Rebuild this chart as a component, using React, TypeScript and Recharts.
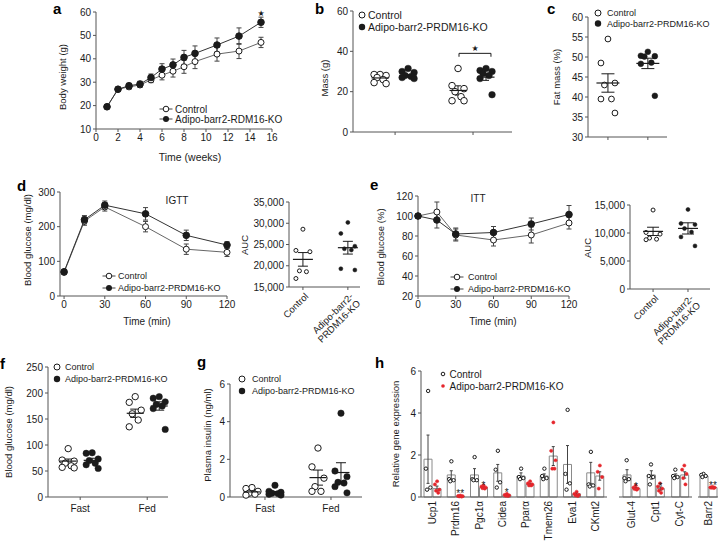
import React from 'react'
import {
  LineChart, Line, ScatterChart, Scatter, ComposedChart, Bar,
  XAxis, YAxis, ErrorBar, ReferenceLine, ReferenceDot, LabelList,
} from 'recharts'

const FONT = '"Liberation Sans", Arial, Helvetica, sans-serif'
const STAR_FONT = '"DejaVu Sans", sans-serif'
const AX = '#555'
const INK = '#1b1b1b'
const RED = '#e5262c'

// ---- a: body weight
const aWeeks = [1, 2, 3, 4, 5, 6, 7, 8, 9, 11, 13, 15]
const aControl = [19.5, 27, 28, 28.8, 31, 33, 34.7, 36.6, 38.8, 42, 43.3, 47]
const aControlErr = [0.8, 0.8, 1, 1, 1.2, 2, 2.5, 2.8, 3, 3, 3.2, 2.2]
const aKO = [19.5, 27, 28.5, 29.2, 32, 35.6, 37.4, 40.6, 42.3, 45.9, 49.7, 55.6]
const aKOErr = [0.8, 0.8, 1, 1.2, 1.5, 2.3, 2.5, 3, 3.2, 3, 3.5, 2.2]
const aStars = ['', '', '', '', '', '', '', '', '', '', '', '★']
const aXTicks = [0, 2, 4, 6, 8, 10, 12, 14, 16]
const aYTicks = [10, 20, 30, 40, 50, 60]
const aLegend = ['Control', 'Adipo-barr2-RDM16-KO']

const groupLegend = ['Control', 'Adipo-barr2-PRDM16-KO']

// ---- b: mass
const bControl = [[28.5, 28.5, 28, 27, 26, 24.5, 24], [31.5, 23, 21.5, 20, 17.5, 15.5, 15.5]]
const bControlMean = [26.8, 20.6]
const bControlSem = [0.7, 2.3]
const bKO = [[31.5, 30, 29.5, 28, 27.5, 27, 26.5], [31.5, 30.5, 30, 29, 28, 26.5, 18.5]]
const bKOMean = [27.9, 27.2]
const bKOSem = [0.6, 1.6]
const bYTicks = [0, 20, 40, 60]

// ---- c: fat mass
const cControl = [[54.5, 48.5, 43.5, 43, 39.5, 39.5, 36]]
const cControlMean = [43.5]
const cControlSem = [2.3]
const cKO = [[51.3, 50.3, 50.2, 50.1, 48.6, 48.3, 40.3]]
const cKOMean = [48.4]
const cKOSem = [1.3]
const cYTicks = [30, 35, 40, 45, 50, 55, 60]

// ---- d: IGTT
const dTimes = [0, 15, 30, 60, 90, 120]
const dControl = [68, 216, 257, 200, 135, 126]
const dControlErr = [5, 12, 12, 15, 15, 12]
const dKO = [70, 220, 262, 237, 175, 147]
const dKOErr = [5, 12, 12, 18, 15, 10]
const dYTicks = [0, 100, 200, 300]
const timeTicks = [0, 30, 60, 90, 120]
const aucGroups = ['Control', 'Adipo-barr2-\nPRDM16-KO']
const dAucControl = [28600, 23600, 23300, 18800, 18600, 17000]
const dAucKO = [30200, 27600, 24600, 24000, 23700, 19300, 19000]
const dAucMean = [21500, 24250]
const dAucSem = [1600, 1500]
const dAucTicks = [15000, 20000, 25000, 30000, 35000]

// ---- e: ITT
const eTimes = [0, 15, 30, 60, 90, 120]
const eControl = [100, 104, 81, 76, 81, 93]
const eControlErr = [0, 10, 6, 6, 8, 6]
const eKO = [100, 96, 82, 83.5, 92, 101.5]
const eKOErr = [0, 8, 6, 6, 6, 9]
const eYTicks = [20, 40, 60, 80, 100, 120]
const eAucControl = [14100, 10100, 9800, 9100, 8900, 8800]
const eAucKO = [14200, 11700, 11500, 10800, 10200, 9300, 7700]
const eAucMean = [10290, 10820]
const eAucSem = [740, 1000]
const eAucTicks = [0, 5000, 10000, 15000]

// ---- f: blood glucose fast / fed
const states = ['Fast', 'Fed']
const fControl = [[93, 71, 69, 65, 60, 57, 56], [193, 182, 167, 160, 148, 135]]
const fControlMean = [69, 161]
const fControlSem = [4, 8]
const fKO = [[85, 84, 73, 70, 65, 62, 55], [193, 190, 183, 178, 175, 170, 130]]
const fKOMean = [70.5, 175]
const fKOSem = [4, 8]
const fYTicks = [0, 50, 100, 150, 200, 250]

// ---- g: plasma insulin
const gControl = [[0.5, 0.45, 0.3, 0.2, 0.15, 0.1], [2.6, 1.6, 1.0, 0.55, 0.3, 0.3]]
const gControlMean = [0.27, 1.03]
const gControlSem = [0.07, 0.4]
const gKO = [[0.62, 0.3, 0.25, 0.2, 0.18, 0.15, 0.1], [4.45, 1.38, 1.08, 0.78, 0.74, 0.55, 0.22]]
const gKOMean = [0.23, 1.3]
const gKOSem = [0.06, 0.52]
const gYTicks = [0, 2, 4, 6]

// ---- h: relative gene expression (three blocks)
const hGenes = [
  ['Ucp1', 'Prdm16', 'Pgc1α', 'Cidea', 'Pparα', 'Tmem26', 'Eva1', 'CKmt2'],
  ['Glut-4', 'Cpt1', 'Cyt-C'],
  ['Barr2'],
]
const hControlMean = [[1.8, 1.05, 1.05, 1.15, 1.0, 1.0, 1.55, 1.15], [1.05, 1.05, 1.0], [1.0]]
const hControlSem = [[1.15, 0.2, 0.3, 0.4, 0.15, 0.1, 0.9, 0.5], [0.25, 0.2, 0.1], [0.05]]
const hKOMean = [[0.4, 0.05, 0.45, 0.1, 0.6, 1.95, 0.15, 1.0], [0.4, 0.4, 1.05], [0.45]]
const hKOSem = [[0.12, 0.02, 0.05, 0.03, 0.05, 0.45, 0.05, 0.2], [0.05, 0.08, 0.15], [0.02]]
const hStars = [['', '**', '*', '*', '', '', '', ''], ['*', '*', ''], ['**']]
const hControlPts = [
  [[5.05, 1.35, 0.45, 0.35], [1.7, 0.85, 0.8, 0.75], [1.9, 0.85, 0.8, 0.8], [2.2, 1.3, 0.7, 0.45],
    [1.35, 0.95, 0.9, 0.85], [1.35, 1.0, 0.9, 0.85], [4.15, 1.1, 0.65, 0.35], [2.15, 0.6, 0.55, 0.5]],
  [[1.75, 0.9, 0.85, 0.75], [1.55, 1.0, 0.95, 0.6], [1.3, 1.0, 0.95, 0.9]],
  [[1.1, 1.05, 1.0, 0.95]],
]
const hKOPts = [
  [[0.75, 0.6, 0.35, 0.3, 0.2], [0.07, 0.05, 0.04, 0.03, 0.02], [0.55, 0.5, 0.45, 0.42, 0.4],
    [0.15, 0.1, 0.08, 0.06, 0.05], [0.75, 0.65, 0.6, 0.55, 0.55], [3.55, 2.2, 1.75, 1.35, 1.35],
    [0.25, 0.15, 0.1, 0.08, 0.05], [1.5, 1.2, 0.95, 0.4]],
  [[0.55, 0.45, 0.4, 0.38, 0.35], [0.65, 0.5, 0.4, 0.3, 0.2], [1.5, 1.3, 1.1, 0.9, 0.6]],
  [[0.48, 0.46, 0.45, 0.44, 0.43]],
]
const hYTicks = [0, 2, 4, 6]

// ---------------------------------------------------------------
const PAD = 10
const JIT = [0, -1, 1, -0.5, 0.5, -1, 1, 0]
const tk = { fontSize: 10, fill: INK }

type Box = { x0: number; y0: number; x1: number; y1: number; yw: number; xh: number }

// plot area lands exactly on x0..x1 / y0..y1 of the page
function place(b: Box) {
  return {
    style: { position: 'absolute' as const, left: b.x0 - b.yw - PAD, top: b.y0 - PAD },
    width: b.x1 - b.x0 + b.yw + 2 * PAD,
    height: b.y1 - b.y0 + PAD + b.xh,
    margin: { top: PAD, right: PAD, bottom: 0, left: PAD },
  }
}

const openDot = (r: number) => (s: any) =>
  <circle cx={s.cx} cy={s.cy} r={r} fill="#fff" stroke={INK} strokeWidth={1} />
const fillDot = (r: number, c = INK) => (s: any) =>
  <circle cx={s.cx} cy={s.cy} r={r} fill={c} stroke={c} strokeWidth={0.5} />

function LinePanel({ box, x, c, ce, k, ke, stars, xDomain, xTicks, yDomain, yTicks }: any) {
  const p = place(box)
  const rows = x.map((t: number, i: number) => ({ t, c: c[i], ce: ce[i], k: k[i], ke: ke[i], s: stars ? stars[i] : '' }))
  return (
    <div style={p.style}>
      <LineChart width={p.width} height={p.height} margin={p.margin} data={rows}>
        <XAxis dataKey="t" type="number" domain={xDomain} ticks={xTicks} interval={0} height={box.xh}
          tickSize={3} stroke={AX} tick={tk} />
        <YAxis type="number" domain={yDomain} ticks={yTicks} interval={0} width={box.yw}
          tickSize={3} stroke={AX} tick={tk} />
        <Line dataKey="c" stroke="#666" strokeWidth={1} isAnimationActive={false}
          dot={{ r: 3, fill: '#fff', stroke: INK, strokeWidth: 1 }} activeDot={false}>
          <ErrorBar dataKey="ce" width={2.5} stroke="#444" strokeWidth={1} />
        </Line>
        <Line dataKey="k" stroke="#333" strokeWidth={1} isAnimationActive={false}
          dot={{ r: 3.3, fill: INK, stroke: INK, strokeWidth: 1 }} activeDot={false}>
          <ErrorBar dataKey="ke" width={2.5} stroke="#444" strokeWidth={1} />
          <LabelList dataKey="s" content={(l: any) => l.value
            ? <text x={l.x} y={l.y - 6.5} textAnchor="middle" fontSize={8} fontFamily={STAR_FONT} fill={INK}>{l.value}</text>
            : null} />
        </Line>
      </LineChart>
    </div>
  )
}

type Group = { cat: number; side: number; vals: number[]; mean: number; sem: number; filled: boolean }

function DotPanel(props: any) {
  const { box, xDomain, xTicks, tick, tickFmt, yDomain, yTicks, yFmt, groups, r, half, cap, spread } = props
  const p = place(box)
  const ppu = (box.x1 - box.x0) / (xDomain[1] - xDomain[0])
  const pts = (filled: boolean) => groups.filter((g: Group) => g.filled === filled).flatMap((g: Group) =>
    g.vals.map((v, i) => ({ x: g.cat + (g.side + JIT[i % JIT.length] * spread) / ppu, y: v })))
  const means = groups.map((g: Group) => ({ x: g.cat + g.side / ppu, y: g.mean, e: g.sem }))
  return (
    <div style={p.style}>
      <ScatterChart width={p.width} height={p.height} margin={p.margin}>
        <XAxis dataKey="x" type="number" domain={xDomain} ticks={xTicks} interval={0} height={box.xh}
          tickSize={3} stroke={AX} tick={tick || tk} tickFormatter={tickFmt} tickMargin={tickFmt ? 5 : 2} />
        <YAxis dataKey="y" type="number" domain={yDomain} ticks={yTicks} interval={0} width={box.yw}
          tickSize={3} stroke={AX} tick={tk} tickFormatter={yFmt} />
        <Scatter data={pts(false)} dataKey="y" shape={openDot(r)} isAnimationActive={false} />
        <Scatter data={pts(true)} dataKey="y" shape={fillDot(r)} isAnimationActive={false} />
        <Scatter data={means} dataKey="y" isAnimationActive={false}
          shape={(s: any) => <line x1={s.cx - half} x2={s.cx + half} y1={s.cy} y2={s.cy} stroke={INK} strokeWidth={1.2} />}>
          <ErrorBar dataKey="e" direction="y" width={cap} stroke={INK} strokeWidth={1} />
        </Scatter>
        {props.children}
      </ScatterChart>
    </div>
  )
}

const aucTick = (s: any) => {
  const lines = aucGroups[s.payload.value - 1].split('\n')
  const x = s.x + 6
  const y = s.y + 5
  return (
    <text x={x} y={y} transform={`rotate(-45 ${x} ${y})`} textAnchor="end" fontSize={9.5} fill={INK}>
      {lines.map((l, i) => <tspan key={i} x={x} dy={i === 0 ? 0 : '1.05em'}>{l}</tspan>)}
    </text>
  )
}

const geneTick = (s: any) => (
  <text x={s.x} y={s.y} transform={`rotate(-90 ${s.x} ${s.y})`} textAnchor="end" dy="0.35em"
    fontSize={10} fill={INK}>{s.payload.value}</text>
)

function GenePanel({ box, block, showY }: { box: Box; block: number; showY: boolean }) {
  const p = place(box)
  const genes = hGenes[block]
  const n = genes.length
  const band = (box.x1 - box.x0) / n
  const off = 4.5 / band
  const js = 2.2 / band
  const rows = genes.map((g, i) => ({
    g, c: hControlMean[block][i], ce: hControlSem[block][i],
    k: hKOMean[block][i], ke: hKOSem[block][i], s: hStars[block][i],
  }))
  const cPts = hControlPts[block].flatMap((vals, i) => vals.map((v, j) => ({ x: i - off + JIT[j] * js, y: v })))
  const kPts = hKOPts[block].flatMap((vals, i) => vals.map((v, j) => ({ x: i + off + JIT[j] * js, y: v })))
  return (
    <div style={p.style}>
      <ComposedChart width={p.width} height={p.height} margin={p.margin} data={rows} barSize={8} barGap={1}>
        <XAxis xAxisId="c" dataKey="g" type="category" interval={0} tickLine={false} tickSize={0}
          tickMargin={4} height={box.xh} stroke={AX} tick={geneTick} />
        <XAxis xAxisId="n" dataKey="x" type="number" domain={[-0.5, n - 0.5]} hide />
        <YAxis type="number" domain={[0, 6]} ticks={hYTicks} interval={0} width={box.yw} hide={!showY}
          tickSize={3} stroke={AX} tick={tk} />
        <Bar xAxisId="c" dataKey="c" fill="#fff" stroke="#8a8a8a" strokeWidth={1} isAnimationActive={false}>
          <ErrorBar dataKey="ce" width={1.5} stroke="#444" strokeWidth={1} />
        </Bar>
        <Bar xAxisId="c" dataKey="k" fill="#fff" stroke="#8a8a8a" strokeWidth={1} isAnimationActive={false}>
          <ErrorBar dataKey="ke" width={1.5} stroke="#444" strokeWidth={1} />
          <LabelList dataKey="s" content={(l: any) => l.value
            ? <text x={l.x + l.width / 2} y={l.y + 1} textAnchor="middle" fontSize={10} fill={INK}>{l.value}</text>
            : null} />
        </Bar>
        <Scatter xAxisId="n" data={cPts} dataKey="y" shape={openDot(1.7)} isAnimationActive={false} />
        <Scatter xAxisId="n" data={kPts} dataKey="y" shape={fillDot(1.6, RED)} isAnimationActive={false} />
      </ComposedChart>
    </div>
  )
}

function groupsOf(cv: number[][], cm: number[], cs: number[], kv: number[][], km: number[], ks: number[], cSide: number, kSide: number): Group[] {
  return cv.flatMap((vals, i) => [
    { cat: i + 1, side: cSide, vals, mean: cm[i], sem: cs[i], filled: false },
    { cat: i + 1, side: kSide, vals: kv[i], mean: km[i], sem: ks[i], filled: true },
  ])
}

function aucGroupsOf(cv: number[], kv: number[], m: number[], s: number[]): Group[] {
  return [
    { cat: 1, side: 0, vals: cv, mean: m[0], sem: s[0], filled: false },
    { cat: 2, side: 0, vals: kv, mean: m[1], sem: s[1], filled: true },
  ]
}

function LegendRow({ x, y, kind, label, size, tx }: any) {
  return (
    <g>
      {(kind === 'lineOpen' || kind === 'lineFilled') &&
        <line x1={x - 6.5} x2={x + 6.5} y1={y} y2={y} stroke="#444" strokeWidth={1} />}
      {kind === 'lineOpen' && <circle cx={x} cy={y} r={2.8} fill="#fff" stroke={INK} />}
      {kind === 'lineFilled' && <circle cx={x} cy={y} r={3} fill={INK} />}
      {kind === 'open' && <circle cx={x} cy={y} r={3} fill="#fff" stroke={INK} />}
      {kind === 'filled' && <circle cx={x} cy={y} r={3.2} fill={INK} />}
      {kind === 'small' && <circle cx={x} cy={y} r={1.8} fill="#fff" stroke={INK} />}
      {kind === 'red' && <circle cx={x} cy={y} r={1.8} fill={RED} />}
      <text x={tx} y={y + size * 0.35} fontSize={size} fill={INK}>{label}</text>
    </g>
  )
}

function VText({ x, y, s, size = 9.5 }: any) {
  return <text transform={`translate(${x},${y}) rotate(-90)`} textAnchor="middle" fontSize={size} fill={INK}>{s}</text>
}

function Overlay() {
  const letter = (x: number, y: number, s: string) =>
    <text x={x} y={y} fontSize={15} fontWeight="bold" fill="#000">{s}</text>
  return (
    <svg width={721} height={543} style={{ position: 'absolute', left: 0, top: 0, pointerEvents: 'none' }}>
      {letter(53, 14, 'a')}{letter(315, 14, 'b')}{letter(547, 14, 'c')}{letter(17, 191, 'd')}
      {letter(370, 190, 'e')}{letter(0, 369, 'f')}{letter(197, 367, 'g')}{letter(375, 368, 'h')}

      <VText x={66} y={77} s="Body weight (g)" />
      <VText x={327.5} y={78} s="Mass (g)" />
      <VText x={559.5} y={77} s="Fat mass (%)" />
      <VText x={31} y={240} s="Blood glucose (mg/dl)" />
      <VText x={247.5} y={245} s="AUC" />
      <VText x={383.5} y={247} s="Blood glucose (%)" />
      <VText x={591} y={248} s="AUC" />
      <VText x={11.5} y={432} s="Blood glucose (mg/dl)" />
      <VText x={210.5} y={435} s="Plasma insulin (ng/ml)" />
      <VText x={398.5} y={434} s="Relative gene expression" />

      <text x={190} y={160.5} textAnchor="middle" fontSize={10.5} fill={INK}>Time (weeks)</text>
      <text x={147} y={324.5} textAnchor="middle" fontSize={10} fill={INK}>Time (min)</text>
      <text x={493} y={324.5} textAnchor="middle" fontSize={10} fill={INK}>Time (min)</text>
      <text x={177} y={203.5} textAnchor="middle" fontSize={10} fill={INK}>IGTT</text>
      <text x={478} y={202} textAnchor="middle" fontSize={10} fill={INK}>ITT</text>

      <LegendRow x={166} y={109} kind="lineOpen" label={aLegend[0]} size={10} tx={175} />
      <LegendRow x={166} y={119} kind="lineFilled" label={aLegend[1]} size={10} tx={175} />
      <LegendRow x={362} y={15} kind="open" label={groupLegend[0]} size={10.5} tx={368} />
      <LegendRow x={362} y={27} kind="filled" label={groupLegend[1]} size={10.5} tx={368} />
      <LegendRow x={598} y={13} kind="open" label={groupLegend[0]} size={9} tx={607} />
      <LegendRow x={598} y={23.5} kind="filled" label={groupLegend[1]} size={9} tx={607} />
      <LegendRow x={109} y={276} kind="lineOpen" label={groupLegend[0]} size={9} tx={118} />
      <LegendRow x={109} y={288} kind="lineFilled" label={groupLegend[1]} size={9} tx={118} />
      <LegendRow x={457} y={277} kind="lineOpen" label={groupLegend[0]} size={9} tx={468} />
      <LegendRow x={457} y={289} kind="lineFilled" label={groupLegend[1]} size={9} tx={468} />
      <LegendRow x={57} y={367} kind="open" label={groupLegend[0]} size={9} tx={65} />
      <LegendRow x={57} y={379} kind="filled" label={groupLegend[1]} size={9} tx={65} />
      <LegendRow x={242} y={379} kind="open" label={groupLegend[0]} size={9} tx={252} />
      <LegendRow x={242} y={391} kind="filled" label={groupLegend[1]} size={9} tx={252} />
      <LegendRow x={443} y={374} kind="small" label={groupLegend[0]} size={10} tx={449.5} />
      <LegendRow x={443} y={386} kind="red" label={groupLegend[1]} size={10} tx={449.5} />
    </svg>
  )
}

const starShape = (s: any) =>
  <text x={s.cx} y={s.cy} textAnchor="middle" dy="0.35em" fontSize={8} fontFamily={STAR_FONT} fill={INK}>★</text>

export default function App() {
  const bracketY = 39
  const bracketL = 1.82
  const bracketR = 2.23
  return (
    <div style={{ position: 'absolute', left: 0, top: 0, width: 721, height: 543, overflow: 'hidden', background: '#fff', fontFamily: FONT }}>
      <LinePanel box={{ x0: 96, y0: 12, x1: 272, y1: 129, yw: 26, xh: 24 }}
        x={aWeeks} c={aControl} ce={aControlErr} k={aKO} ke={aKOErr} stars={aStars}
        xDomain={[0, 16]} xTicks={aXTicks} yDomain={[10, 60]} yTicks={aYTicks} />

      <DotPanel box={{ x0: 353, y0: 11, x1: 512, y1: 132, yw: 24, xh: 12 }}
        xDomain={[0.46, 2.5]} xTicks={[1, 2]} tickFmt={() => ''} yDomain={[0, 60]} yTicks={bYTicks}
        groups={groupsOf(bControl, bControlMean, bControlSem, bKO, bKOMean, bKOSem, -15, 13)}
        r={3.3} half={8.5} cap={3} spread={6}>
        <ReferenceLine segment={[{ x: bracketL, y: bracketY }, { x: bracketR, y: bracketY }]} stroke={INK} />
        <ReferenceLine segment={[{ x: bracketL, y: bracketY }, { x: bracketL, y: bracketY - 1.7 }]} stroke={INK} />
        <ReferenceLine segment={[{ x: bracketR, y: bracketY }, { x: bracketR, y: bracketY - 1.7 }]} stroke={INK} />
        <ReferenceDot x={(bracketL + bracketR) / 2} y={bracketY + 2.6} r={0} shape={starShape} />
      </DotPanel>

      <DotPanel box={{ x0: 588, y0: 17, x1: 667, y1: 137, yw: 24, xh: 12 }}
        xDomain={[0.5, 2.48]} xTicks={[1, 2]} tickFmt={() => ''} yDomain={[30, 60]} yTicks={cYTicks}
        groups={aucGroupsOf(cControl[0], cKO[0], [cControlMean[0], cKOMean[0]], [cControlSem[0], cKOSem[0]])}
        r={2.9} half={11.5} cap={6.5} spread={7} />

      <LinePanel box={{ x0: 60, y0: 192, x1: 227, y1: 296, yw: 28, xh: 24 }}
        x={dTimes} c={dControl} ce={dControlErr} k={dKO} ke={dKOErr}
        xDomain={[-3, 120]} xTicks={timeTicks} yDomain={[0, 300]} yTicks={dYTicks} />

      <DotPanel box={{ x0: 289, y0: 202, x1: 360, y1: 287, yw: 36, xh: 75 }}
        xDomain={[0.69, 2.27]} xTicks={[1, 2]} tick={aucTick} yDomain={[15000, 35000]} yTicks={dAucTicks}
        yFmt={(v: number) => v.toLocaleString('en-US')}
        groups={aucGroupsOf(dAucControl, dAucKO, dAucMean, dAucSem)}
        r={2} half={10} cap={5} spread={7} />

      <LinePanel box={{ x0: 418, y0: 196, x1: 569, y1: 296, yw: 26, xh: 24 }}
        x={eTimes} c={eControl} ce={eControlErr} k={eKO} ke={eKOErr}
        xDomain={[0, 120]} xTicks={timeTicks} yDomain={[20, 120]} yTicks={eYTicks} />

      <DotPanel box={{ x0: 630, y0: 205, x1: 710, y1: 289, yw: 36, xh: 75 }}
        xDomain={[0.34, 2.63]} xTicks={[1, 2]} tick={aucTick} yDomain={[0, 15000]} yTicks={eAucTicks}
        yFmt={(v: number) => v.toLocaleString('en-US')}
        groups={aucGroupsOf(eAucControl, eAucKO, eAucMean, eAucSem)}
        r={2} half={10} cap={6} spread={7} />

      <DotPanel box={{ x0: 48, y0: 367, x1: 168, y1: 497, yw: 30, xh: 24 }}
        xDomain={[0.52, 2.31]} xTicks={[1, 2]} tickFmt={(v: number) => states[v - 1]}
        yDomain={[0, 250]} yTicks={fYTicks}
        groups={groupsOf(fControl, fControlMean, fControlSem, fKO, fKOMean, fKOSem, -12, 12)}
        r={3.2} half={8.5} cap={5} spread={6} />

      <DotPanel box={{ x0: 230, y0: 384, x1: 362, y1: 497, yw: 20, xh: 24 }}
        xDomain={[0.47, 2.47]} xTicks={[1, 2]} tickFmt={(v: number) => states[v - 1]}
        yDomain={[0, 6]} yTicks={gYTicks}
        groups={groupsOf(gControl, gControlMean, gControlSem, gKO, gKOMean, gKOSem, -13, 10)}
        r={3.2} half={8.5} cap={5} spread={6} />

      <GenePanel box={{ x0: 421, y0: 371, x1: 607, y1: 497, yw: 20, xh: 46 }} block={0} showY />
      <GenePanel box={{ x0: 619, y0: 371, x1: 692, y1: 497, yw: 0, xh: 46 }} block={1} showY={false} />
      <GenePanel box={{ x0: 698, y0: 371, x1: 718, y1: 497, yw: 0, xh: 46 }} block={2} showY={false} />

      <Overlay />
    </div>
  )
}
